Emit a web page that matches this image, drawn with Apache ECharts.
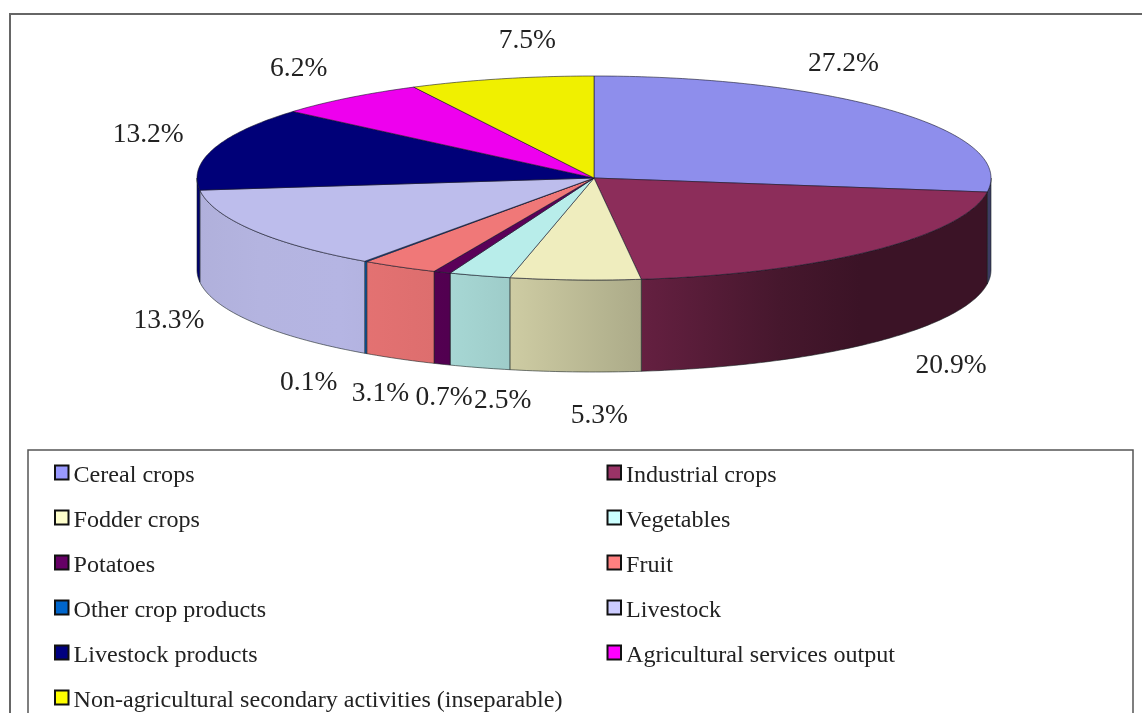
<!DOCTYPE html>
<html>
<head>
<meta charset="utf-8">
<style>html,body{margin:0;padding:0;background:#fff;overflow:hidden}#c{width:1142px;height:713px}</style>
<script src="https://cdn.jsdelivr.net/npm/echarts@6/dist/echarts.min.js"></script>
</head>
<body>
<div id="c"></div>
<script>
const categories = ['Cereal crops','Industrial crops','Fodder crops','Vegetables','Potatoes','Fruit','Other crop products','Livestock','Livestock products','Agricultural services output','Non-agricultural secondary activities (inseparable)'];
const values = [27.2,20.9,5.3,2.5,0.7,3.1,0.1,13.3,13.2,6.2,7.5];
const legendColors = ['#9999FF','#993366','#FFFFCC','#CCFFFF','#660066','#FF8080','#0066CC','#CCCCFF','#000080','#FF00FF','#FFFF00'];
const topColors = ['#8E8EEC','#8C2D5A','#EFEDBE','#B8EDEA','#5A0058','#F07878','#0A60B8','#BDBDEC','#000078','#EE00EE','#F0F000'];

// layout (not data)
const CX = 594, CY = 178, RX = 397, RY = 102, DEPTH = 92;
const labelNudge = [[-50,-47],[79,23],[24,44],[23,33],[2,34],[-19,35],[-57,29],[-84,-1],[-66,-14],[-50,-29],[26,-38]];
const shadeStops = [[198,.93],[260,.95],[340,.96],[434,.92],[510,.86],[640,.72],[780,.5],[860,.42],[991,.42]];

const total = values.reduce((a,b)=>a+b,0);
const starts = []; values.reduce((acc,v,i)=>{starts[i]=acc;return acc+v;},0);
const toAngle = p => p/total*Math.PI*2;
const rim = (a,dy=0) => [CX+RX*Math.sin(a), CY-RY*Math.cos(a)+dy];
const arcPts = (a0,a1,dy=0) => {
  const n = Math.max(2,Math.ceil((a1-a0)/0.015)); const out=[];
  for(let i=0;i<=n;i++) out.push(rim(a0+(a1-a0)*i/n,dy));
  return out;
};
function scale(hex,f){
  const n=parseInt(hex.slice(1),16);
  return 'rgb('+[(n>>16)&255,(n>>8)&255,n&255].map(c=>Math.round(c*f)).join(',')+')';
}
function wallFill(hex){
  const x0=shadeStops[0][0], x1=shadeStops[shadeStops.length-1][0];
  return new echarts.graphic.LinearGradient(x0,0,x1,0,shadeStops.map(s=>({offset:(s[0]-x0)/(x1-x0),color:scale(hex,s[1])})),true);
}
function makeRender(i){
  return function(params,api){
    const v = api.value(0);
    const a0 = toAngle(starts[i]), a1 = toAngle(starts[i]+v);
    const children = [];
    const w0 = Math.max(a0,Math.PI/2), w1 = Math.min(a1,Math.PI*1.5);
    if(w1>w0){
      const upper = arcPts(w0,w1), lower = arcPts(w0,w1,DEPTH).reverse();
      children.push({type:'polygon',shape:{points:upper.concat(lower)},
        style:{fill:wallFill(topColors[i]),stroke:'rgba(20,30,30,0.65)',lineWidth:0.9}});
    }
    children.push({type:'polygon',shape:{points:[[CX,CY]].concat(arcPts(a0,a1))},
      style:{fill:topColors[i],stroke:'rgba(20,20,40,0.65)',lineWidth:0.9}});
    const mid=(a0+a1)/2;
    const p=rim(mid,Math.cos(mid)<0||(mid>Math.PI&&mid<Math.PI*1.5)?DEPTH:0);
    children.push({type:'text',x:p[0]+labelNudge[i][0],y:p[1]+labelNudge[i][1],
      style:{text:v.toFixed(1)+'%',align:'center',verticalAlign:'middle',fill:'#222',font:'27.5px "Liberation Serif"'}});
    return {type:'group',children};
  };
}
const series = categories.map((name,i)=>({
  type:'custom',name,coordinateSystem:'none',data:[[values[i]]],
  renderItem:makeRender(i),itemStyle:{color:legendColors[i]},
  animation:false,silent:true
}));
const legendBase = {orient:'vertical',padding:0,itemWidth:13.5,itemHeight:14,itemGap:18,height:400,selectedMode:false,icon:'rect',
  itemStyle:{borderColor:'#111',borderWidth:2},
  formatter:n=>'{s|}{a|'+n+'}',
  textStyle:{fontFamily:'"Liberation Serif"',fontSize:24.1,color:'#222',
    rich:{s:{height:30,width:0},a:{fontFamily:'"Liberation Serif"',fontSize:24.1,color:'#222',height:24,lineHeight:24,verticalAlign:'bottom'}}}};
const option = {
  backgroundColor:'#fff',animation:false,tooltip:{show:false},
  legend:[
    Object.assign({},legendBase,{left:54,top:460.5,data:categories.filter((c,i)=>i%2===0)}),
    Object.assign({},legendBase,{left:606.5,top:460.5,data:categories.filter((c,i)=>i%2===1)})
  ],
  graphic:[
    {type:'rect',z:-1,shape:{x:10,y:14,width:1200,height:800},style:{fill:'#fff',stroke:'#666',lineWidth:2}},
    {type:'rect',z:-1,shape:{x:28,y:450,width:1105,height:400},style:{fill:'#fff',stroke:'#555',lineWidth:1.5}}
  ],
  series
};
echarts.init(document.getElementById('c'),null,{renderer:'canvas'}).setOption(option);
</script>
</body>
</html>
